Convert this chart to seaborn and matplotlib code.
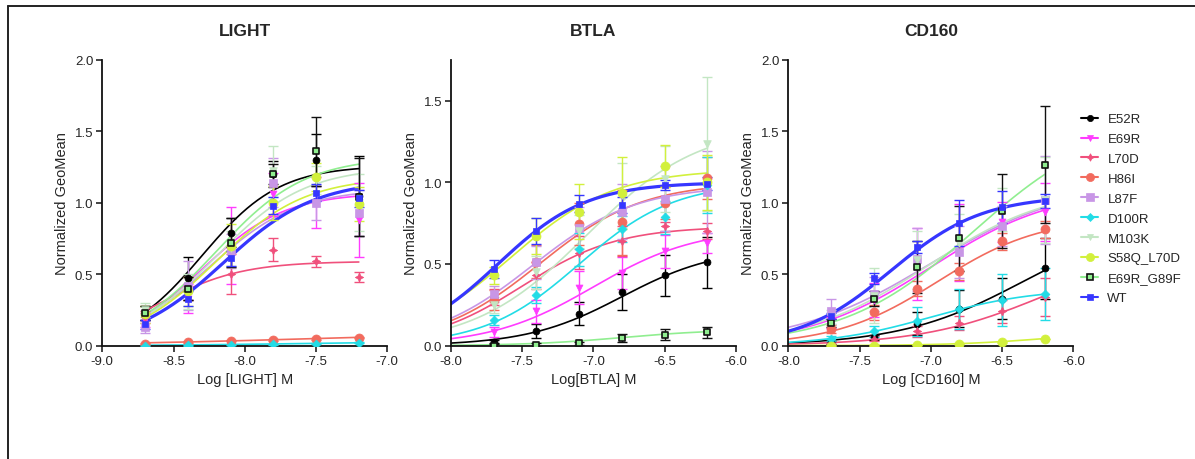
import numpy as np
import pandas as pd
import matplotlib
matplotlib.use("Agg")
import matplotlib.pyplot as plt
from matplotlib.lines import Line2D
import seaborn as sns

# ---------------------------------------------------------------- data
variants = ["E52R", "E69R", "L70D", "H86I", "L87F", "D100R",
            "M103K", "S58Q_L70D", "E69R_G89F", "WT"]

light_x = [-8.7, -8.4, -8.1, -7.8, -7.5, -7.2]
btla_x = [-7.7, -7.4, -7.1, -6.8, -6.5, -6.2]
cd160_x = [-7.7, -7.4, -7.1, -6.8, -6.5, -6.2]

light_mean = {
    "E52R":      [0.23, 0.47, 0.79, 1.20, 1.30, 1.05],
    "E69R":      [0.18, 0.33, 0.70, 1.06, 1.00, 0.88],
    "L70D":      [0.20, 0.40, 0.50, 0.67, 0.59, 0.48],
    "H86I":      [0.015, 0.025, 0.035, 0.040, 0.048, 0.056],
    "L87F":      [0.13, 0.42, 0.66, 1.14, 1.00, 0.93],
    "D100R":     [0.000, 0.003, 0.007, 0.010, 0.015, 0.020],
    "M103K":     [0.25, 0.38, 0.68, 1.22, 1.16, 1.00],
    "S58Q_L70D": [0.22, 0.38, 0.70, 1.00, 1.18, 0.99],
    "E69R_G89F": [0.23, 0.40, 0.72, 1.20, 1.36, 1.04],
    "WT":        [0.15, 0.33, 0.61, 0.98, 1.07, 1.03],
}
light_err = {
    "E52R":      [0.05, 0.15, 0.10, 0.09, 0.18, 0.28],
    "E69R":      [0.05, 0.10, 0.27, 0.15, 0.18, 0.26],
    "L70D":      [0.04, 0.08, 0.14, 0.08, 0.04, 0.035],
    "H86I":      [0.005, 0.005, 0.005, 0.005, 0.005, 0.005],
    "L87F":      [0.04, 0.17, 0.12, 0.17, 0.12, 0.16],
    "D100R":     [0.003, 0.003, 0.003, 0.003, 0.003, 0.003],
    "M103K":     [0.05, 0.12, 0.12, 0.18, 0.10, 0.20],
    "S58Q_L70D": [0.06, 0.10, 0.15, 0.12, 0.10, 0.12],
    "E69R_G89F": [0.05, 0.08, 0.17, 0.07, 0.24, 0.27],
    "WT":        [0.03, 0.05, 0.05, 0.06, 0.06, 0.06],
}

btla_mean = {
    "E52R":      [0.025, 0.09, 0.195, 0.33, 0.43, 0.51],
    "E69R":      [0.086, 0.21, 0.355, 0.445, 0.577, 0.628],
    "L70D":      [0.30, 0.43, 0.57, 0.64, 0.73, 0.70],
    "H86I":      [0.28, 0.515, 0.745, 0.755, 0.873, 1.026],
    "L87F":      [0.315, 0.51, 0.72, 0.82, 0.90, 0.94],
    "D100R":     [0.157, 0.31, 0.59, 0.715, 0.785, 0.985],
    "M103K":     [0.25, 0.45, 0.70, 0.92, 1.02, 1.235],
    "S58Q_L70D": [0.43, 0.67, 0.82, 0.935, 1.10, 1.00],
    "E69R_G89F": [0.000, 0.005, 0.015, 0.045, 0.068, 0.082],
    "WT":        [0.47, 0.70, 0.87, 0.86, 0.985, 0.99],
}
btla_err = {
    "E52R":      [0.01, 0.04, 0.07, 0.11, 0.125, 0.155],
    "E69R":      [0.03, 0.07, 0.10, 0.10, 0.10, 0.06],
    "L70D":      [0.05, 0.08, 0.10, 0.09, 0.03, 0.05],
    "H86I":      [0.06, 0.10, 0.13, 0.20, 0.10, 0.13],
    "L87F":      [0.05, 0.10, 0.13, 0.17, 0.20, 0.25],
    "D100R":     [0.03, 0.05, 0.10, 0.08, 0.10, 0.17],
    "M103K":     [0.05, 0.10, 0.10, 0.20, 0.20, 0.41],
    "S58Q_L70D": [0.05, 0.11, 0.17, 0.22, 0.13, 0.17],
    "E69R_G89F": [0.01, 0.01, 0.01, 0.025, 0.035, 0.035],
    "WT":        [0.055, 0.08, 0.05, 0.05, 0.03, 0.04],
}

cd160_mean = {
    "E52R":      [0.024, 0.058, 0.154, 0.26, 0.33, 0.54],
    "E69R":      [0.163, 0.32, 0.57, 0.72, 0.865, 0.935],
    "L70D":      [0.02, 0.05, 0.10, 0.16, 0.24, 0.34],
    "H86I":      [0.116, 0.233, 0.40, 0.52, 0.73, 0.815],
    "L87F":      [0.24, 0.36, 0.605, 0.656, 0.837, 1.02],
    "D100R":     [0.05, 0.10, 0.17, 0.26, 0.32, 0.36],
    "M103K":     [0.20, 0.35, 0.60, 0.72, 0.95, 1.02],
    "S58Q_L70D": [0.000, 0.000, 0.005, 0.015, 0.024, 0.047],
    "E69R_G89F": [0.16, 0.33, 0.55, 0.75, 0.94, 1.265],
    "WT":        [0.21, 0.47, 0.69, 0.86, 0.97, 1.01],
}
cd160_err = {
    "E52R":      [0.01, 0.02, 0.08, 0.13, 0.14, 0.21],
    "E69R":      [0.04, 0.12, 0.25, 0.27, 0.14, 0.20],
    "L70D":      [0.01, 0.02, 0.04, 0.05, 0.08, 0.13],
    "H86I":      [0.03, 0.05, 0.05, 0.06, 0.06, 0.06],
    "L87F":      [0.09, 0.12, 0.22, 0.18, 0.14, 0.31],
    "D100R":     [0.02, 0.04, 0.10, 0.14, 0.18, 0.18],
    "M103K":     [0.05, 0.19, 0.20, 0.20, 0.15, 0.30],
    "S58Q_L70D": [0.003, 0.003, 0.003, 0.003, 0.003, 0.003],
    "E69R_G89F": [0.03, 0.05, 0.18, 0.23, 0.26, 0.41],
    "WT":        [0.02, 0.04, 0.04, 0.16, 0.11, 0.05],
}

# Fitted dose-response parameters (top, logEC50, Hill slope); bottom = 0
light_fit = {
    "E52R": (1.26, -8.30, 1.6), "E69R": (1.07, -8.30, 1.5),
    "L70D": (0.59, -8.60, 1.5), "H86I": (0.10, -7.50, 0.5),
    "L87F": (1.10, -8.25, 1.4), "D100R": (0.03, -7.60, 0.8),
    "M103K": (1.25, -8.20, 1.4), "S58Q_L70D": (1.18, -8.20, 1.4),
    "E69R_G89F": (1.32, -8.20, 1.4), "WT": (1.16, -8.15, 1.35),
}
btla_fit = {
    "E52R": (0.60, -6.80, 1.3), "E69R": (0.72, -7.00, 1.2),
    "L70D": (0.73, -7.50, 1.3), "H86I": (1.00, -7.38, 1.2),
    "L87F": (0.98, -7.43, 1.2), "D100R": (1.00, -7.10, 1.3),
    "M103K": (1.35, -7.05, 1.1), "S58Q_L70D": (1.08, -7.58, 1.2),
    "E69R_G89F": (0.10, -6.80, 1.3), "WT": (1.00, -7.67, 1.4),
}
cd160_fit = {
    "E52R": (0.90, -6.35, 1.0), "E69R": (1.10, -7.00, 1.0),
    "L70D": (0.70, -6.20, 1.0), "H86I": (0.90, -6.95, 1.2),
    "L87F": (1.15, -7.00, 0.9), "D100R": (0.40, -7.00, 1.2),
    "M103K": (1.12, -7.02, 1.0), "S58Q_L70D": (0.10, -6.20, 1.3),
    "E69R_G89F": (1.60, -6.70, 0.95), "WT": (1.05, -7.28, 1.35),
}

# ---------------------------------------------------------------- styles
colors = {
    "E52R": "#000000", "E69R": "#FF3CFF", "L70D": "#F0507C",
    "H86I": "#F26B5E", "L87F": "#C896E6", "D100R": "#22DCE6",
    "M103K": "#C3E6C3", "S58Q_L70D": "#D2F03C", "E69R_G89F": "#90EE90",
    "WT": "#3636FF",
}
markers = {
    "E52R": ("o", 5.0), "E69R": ("v", 5.0), "L70D": ((4, 1, 0), 6.0),
    "H86I": ("o", 6.5), "L87F": ("s", 6.0), "D100R": ("D", 4.5),
    "M103K": ("v", 5.5), "S58Q_L70D": ("o", 6.5), "E69R_G89F": ("s", 5.0),
    "WT": ("s", 5.0),
}

sns.set_theme(style="ticks")
plt.rcParams["font.family"] = ["Liberation Sans", "DejaVu Sans"]

fig = plt.figure(figsize=(11.95, 4.60), dpi=100)

panels = [
    ("LIGHT", "Log [LIGHT] M", light_x, light_mean, light_err, light_fit,
     (-9.0, -7.0), (0, 2.0), [0.0, 0.5, 1.0, 1.5, 2.0], (-8.7, -7.2), 0.0856),
    ("BTLA", "Log[BTLA] M", btla_x, btla_mean, btla_err, btla_fit,
     (-8.0, -6.0), (0, 1.75), [0.0, 0.5, 1.0, 1.5], (-8.0, -6.2), 0.3774),
    ("CD160", "Log [CD160] M", cd160_x, cd160_mean, cd160_err, cd160_fit,
     (-8.0, -6.0), (0, 2.0), [0.0, 0.5, 1.0, 1.5, 2.0], (-8.0, -6.2), 0.6597),
]


def hill(x, top, ec50, slope):
    return top / (1.0 + 10 ** ((ec50 - x) * slope))


for (title, xlabel, xs, means, errs, fits, xlim, ylim, yticks,
     crange, left) in panels:
    ax = fig.add_axes([left, 0.2463, 0.2385, 0.6217])
    xx = np.linspace(crange[0], crange[1], 200)
    for v in variants:
        top, ec50, slope = fits[v]
        curve = pd.DataFrame({"x": xx, "y": hill(xx, top, ec50, slope)})
        sns.lineplot(data=curve, x="x", y="y", ax=ax, color=colors[v],
                     lw=2.3 if v == "WT" else 1.2, zorder=2)
    for v in variants:
        m, ms = markers[v]
        ecol = "#111111" if v == "E69R_G89F" else colors[v]
        ax.errorbar(xs, means[v], yerr=errs[v], fmt="none", ecolor=ecol,
                    elinewidth=1.0, capsize=3.5, capthick=1.0, zorder=3)
        sns.scatterplot(x=xs, y=means[v], ax=ax, marker=m, s=ms ** 2,
                        color=colors[v],
                        edgecolor="#111111" if v == "E69R_G89F" else colors[v],
                        linewidth=1.2 if v == "E69R_G89F" else 0.5, zorder=4)
    ax.set_xlim(*xlim)
    ax.set_ylim(*ylim)
    ax.set_xticks(np.arange(xlim[0], xlim[1] + 0.01, 0.5))
    ax.set_xticklabels([f"{t:.1f}" for t in np.arange(xlim[0], xlim[1] + 0.01, 0.5)])
    ax.set_yticks(yticks)
    ax.set_yticklabels([f"{t:.1f}" for t in yticks])
    ax.tick_params(axis="both", labelsize=9.5, length=4, width=1.1,
                   direction="out", color="#111111", pad=2.5)
    for s in ("left", "bottom"):
        ax.spines[s].set_linewidth(1.3)
        ax.spines[s].set_color("#111111")
    sns.despine(ax=ax)
    ax.set_xlabel(xlabel, fontsize=10.5, labelpad=4)
    ax.set_ylabel("Normalized GeoMean", fontsize=10.5, labelpad=4)
    ax.set_title(title, fontsize=12.5, fontweight="bold", pad=18)

# legend
handles = []
for v in variants:
    m, ms = markers[v]
    handles.append(Line2D([], [], color=colors[v], lw=1.5, marker=m,
                          markersize=ms * 0.9, markerfacecolor=colors[v],
                          markeredgecolor="#111111" if v == "E69R_G89F" else colors[v],
                          markeredgewidth=1.2 if v == "E69R_G89F" else 0.5))
fig.legend(handles, variants, loc="upper left",
           bbox_to_anchor=(1081 / 1195, 1 - 114 / 460), frameon=False,
           fontsize=9.5, handlelength=1.3, handletextpad=0.7,
           labelspacing=0.58, borderpad=0, borderaxespad=0)

# outer frame
fig.add_artist(Line2D([7.5 / 1195, 7.5 / 1195], [0, 1 - 6.5 / 460],
                      transform=fig.transFigure, color="#222222", lw=1.4))
fig.add_artist(Line2D([7.5 / 1195, 1], [1 - 6.5 / 460, 1 - 6.5 / 460],
                      transform=fig.transFigure, color="#222222", lw=1.4))

fig.savefig("out.png", dpi=100, facecolor="white")
